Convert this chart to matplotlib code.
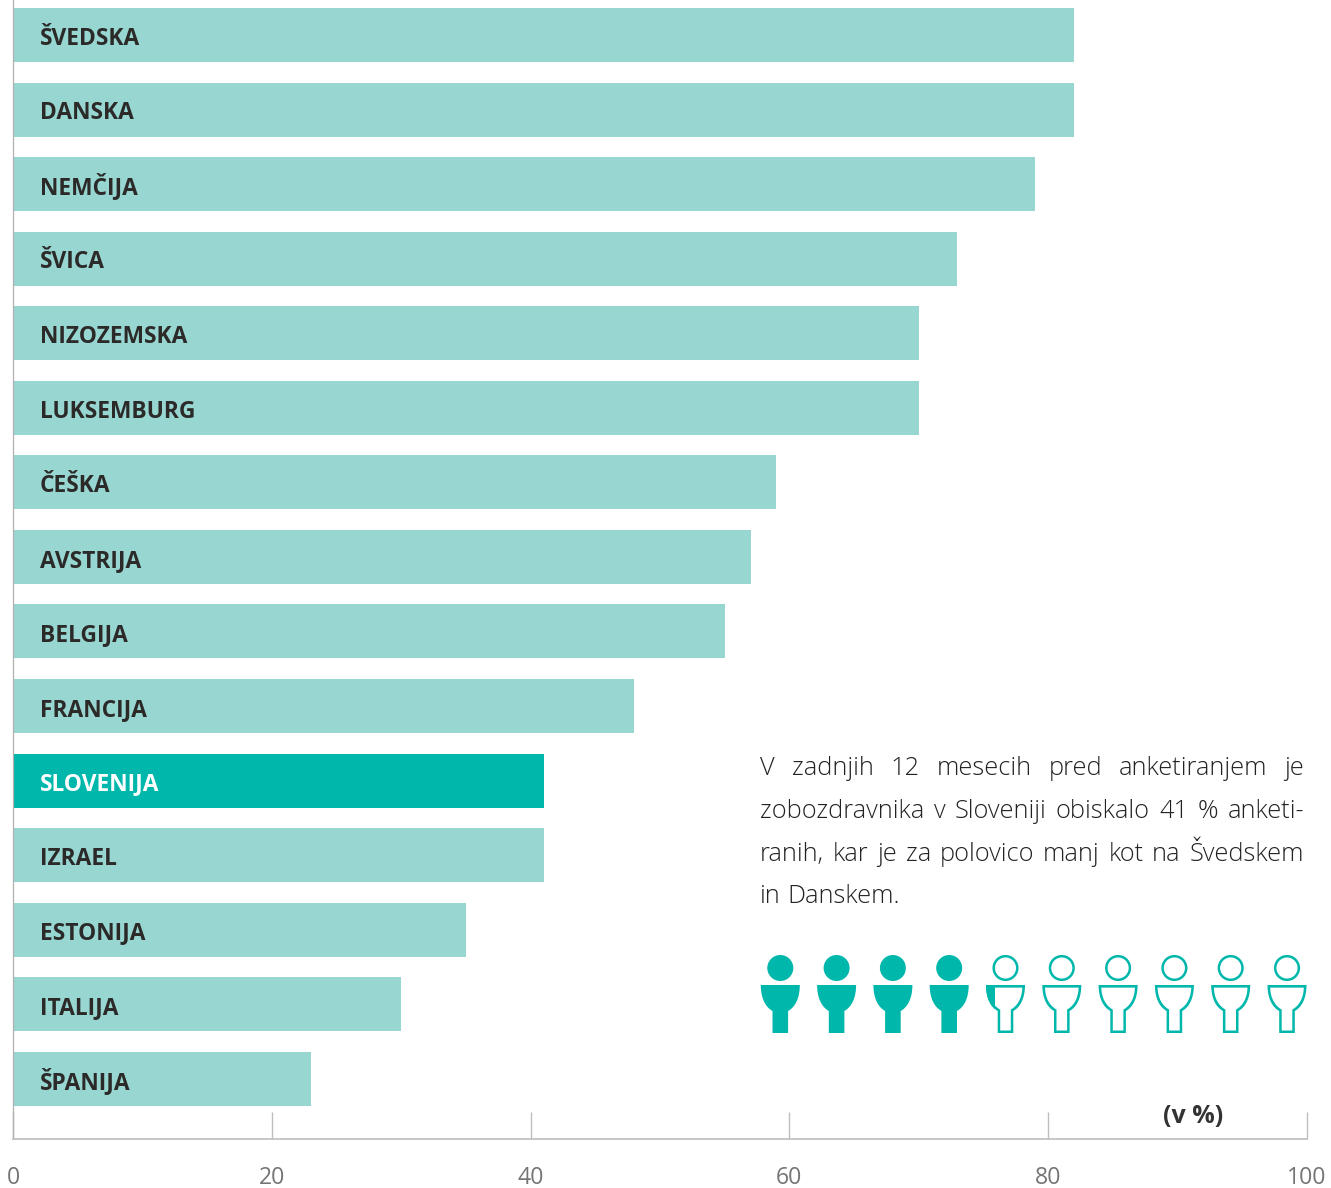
import matplotlib
matplotlib.use("Agg")
import matplotlib.pyplot as plt
from matplotlib.path import Path
from matplotlib.patches import Circle, PathPatch, Rectangle
from matplotlib.transforms import Affine2D

countries = ["ŠVEDSKA", "DANSKA", "NEMČIJA", "ŠVICA", "NIZOZEMSKA", "LUKSEMBURG", "ČEŠKA", "AVSTRIJA",
             "BELGIJA", "FRANCIJA", "SLOVENIJA", "IZRAEL", "ESTONIJA", "ITALIJA", "ŠPANIJA"]
values = [82, 82, 79, 73, 70, 70, 59, 57, 55, 48, 41, 41, 35, 30, 23]
highlight = "SLOVENIJA"
x_ticks = [0, 20, 40, 60, 80, 100]
unit_label = "(v %)"
note_lines = ["V zadnjih 12 mesecih pred anketiranjem je",
              "zobozdravnika v Sloveniji obiskalo 41 % anketi-",
              "ranih, kar je za polovico manj kot na Švedskem",
              "in Danskem."]
icon_fill = [1, 1, 1, 1, 0.22, 0, 0, 0, 0, 0]

W, H = 1331, 1188
TEAL = "#00B7AC"
LIGHT = "#97D6D1"
GREY = "#BEBEBE"
plt.rcParams["font.family"] = ["Open Sans", "DejaVu Sans"]

fig = plt.figure(figsize=(W / 100, H / 100), dpi=100)

# main chart, axes box runs from the top of the picture down to the baseline
ax = fig.add_axes([13.3 / W, (H - 1139) / H, 1293.4 / W, 1139 / H])
ypos = list(range(len(countries)))
colors = [TEAL if c == highlight else LIGHT for c in countries]
ax.barh(ypos, values, height=0.7242, color=colors, linewidth=0, zorder=2)
ax.set_xlim(0, 100)
ax.set_ylim(14.807, -0.4694)
ax.set_yticks([])
ax.set_xticks(x_ticks)
ax.tick_params(axis="x", direction="in", length=19.5, width=1.0, color=GREY, pad=19.7,
               labelsize=16.6, labelcolor="#757575")
ax.spines["top"].set_visible(False)
ax.spines["right"].set_visible(False)
ax.spines["left"].set_color("#B0B0B0")
ax.spines["left"].set_linewidth(0.9)
ax.spines["bottom"].set_color(GREY)
ax.spines["bottom"].set_linewidth(1.2)

for i, name in enumerate(countries):
    ax.annotate(name, (0, i), xytext=(19.2, -7), textcoords="offset points", va="baseline", ha="left",
                fontsize=16.4, fontweight="bold", color="white" if name == highlight else "#2B2A29", zorder=3)

# overlay in pixel coordinates for the note and the pictogram row
ov = fig.add_axes([0, 0, 1, 1])
ov.set_xlim(0, W)
ov.set_ylim(H, 0)
ov.axis("off")
ov.patch.set_alpha(0)

ov.text(1193, 1123, unit_label, ha="center", va="baseline", fontsize=18, fontweight="bold", color="#333333")

# justify the note by hand, word by word
renderer = fig.canvas.get_renderer()
left, right = 760, 1304
base = [775, 818, 861, 903]
for n, line in enumerate(note_lines):
    words = line.split(" ")
    arts = [ov.text(0, base[n], w, va="baseline", ha="left", fontsize=18.3, fontweight="light", color="#222222")
            for w in words]
    widths = [a.get_window_extent(renderer).width for a in arts]
    if n < len(note_lines) - 1:
        gap = (right - left - sum(widths)) / (len(words) - 1)
    else:
        gap = 7
    x = left
    for a, wd in zip(arts, widths):
        a.set_x(x)
        x += wd + gap

codes = [Path.MOVETO, Path.LINETO, Path.CURVE4, Path.CURVE4, Path.CURVE4, Path.LINETO, Path.LINETO, Path.LINETO,
         Path.CURVE4, Path.CURVE4, Path.CURVE4, Path.CLOSEPOLY]
outer = Path([(-19.5, 985), (19.5, 985), (19.5, 998), (15, 1007), (7.8, 1011), (7.8, 1033), (-7.8, 1033),
              (-7.8, 1011), (-15, 1007), (-19.5, 998), (-19.5, 985), (-19.5, 985)], codes)
inner = Path([(-16.8, 987.6), (16.8, 987.6), (16.6, 998), (12, 1006), (5.3, 1009.5), (5.3, 1030.5), (-5.3, 1030.5),
              (-5.3, 1009.5), (-12, 1006), (-16.6, 998), (-16.8, 987.6), (-16.8, 987.6)], codes)
for k, share in enumerate(icon_fill):
    cx = 780.3 + k * 56.3
    body = outer.transformed(Affine2D().translate(cx, 0))
    ov.add_patch(PathPatch(body, fc=TEAL, lw=0))
    if share == 1:
        ov.add_patch(Circle((cx, 968), 13, fc=TEAL, lw=0))
        continue
    ov.add_patch(PathPatch(inner.transformed(Affine2D().translate(cx, 0)), fc="white", lw=0))
    ov.add_patch(Circle((cx, 968), 11.8, fc="white", ec=TEAL, lw=1.8))
    if share > 0:
        part = PathPatch(body, fc=TEAL, lw=0)
        ov.add_patch(part)
        part.set_clip_path(Rectangle((cx - 19.5, 985), 39 * share, 48, transform=ov.transData))

fig.savefig("out.png", dpi=100)
